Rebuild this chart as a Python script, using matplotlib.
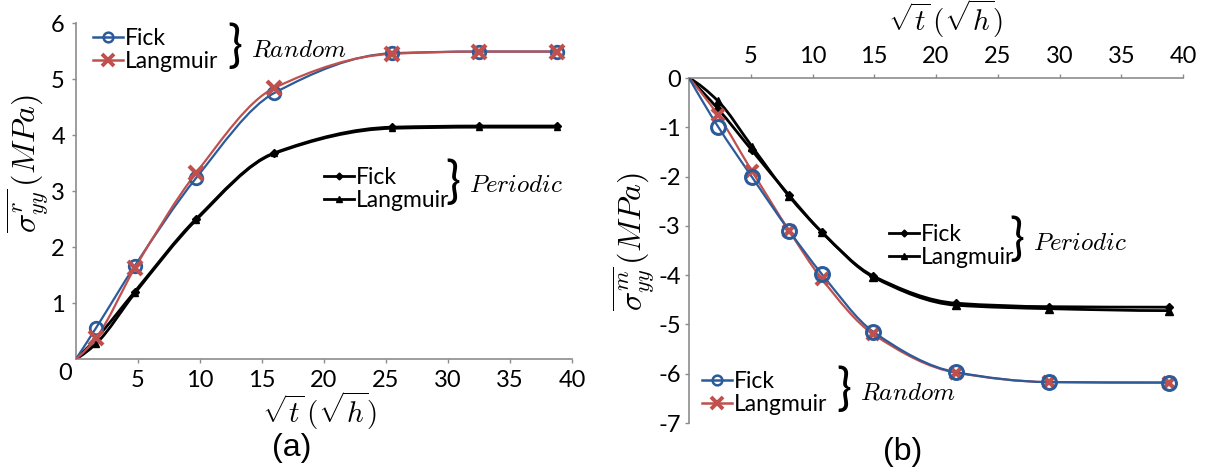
import numpy as np
import matplotlib as mpl
mpl.use('Agg')
import matplotlib.pyplot as plt
from matplotlib.path import Path
from matplotlib.patches import PathPatch
from matplotlib.lines import Line2D

plt.rcParams['font.family'] = ['Lato', 'DejaVu Sans']
plt.rcParams['mathtext.fontset'] = 'cm'

# panel (a): residual stress, sqrt(t) in sqrt(h)
t_a = [0, 1.6, 4.73, 9.68, 15.99, 25.52, 32.48, 38.82]
a_rand_fick = [0, 0.55, 1.66, 3.23, 4.75, 5.46, 5.49, 5.49]
a_rand_lang = [0, 0.37, 1.62, 3.32, 4.84, 5.45, 5.49, 5.49]
a_per_fick = [0, 0.36, 1.20, 2.50, 3.68, 4.14, 4.16, 4.16]
a_per_lang = [0, 0.27, 1.17, 2.48, 3.67, 4.12, 4.14, 4.14]

# panel (b): matrix stress
t_b = [0, 2.36, 5.1, 8.11, 10.73, 14.93, 21.63, 29.14, 38.83]
b_rand_fick = [0, -0.99, -2.01, -3.10, -3.97, -5.15, -5.97, -6.17, -6.18]
b_rand_lang = [0, -0.76, -1.89, -3.10, -4.07, -5.20, -5.98, -6.17, -6.18]
b_per_fick = [0, -0.63, -1.47, -2.38, -3.12, -4.02, -4.57, -4.64, -4.65]
b_per_lang = [0, -0.47, -1.39, -2.40, -3.12, -4.04, -4.61, -4.68, -4.72]

BLUE = '#2C5B9A'
RED = '#C0504D'
GRAY = '#8C8C8C'
W, H = 1210, 471


def px(x, y):
    return x / W, 1 - y / H


def smooth(ax, x, y, color, lw, z):
    # smoothed line: monotone cubic bezier through the points
    x = np.asarray(x, float)
    y = np.asarray(y, float)
    h = np.diff(x)
    d = np.diff(y) / h
    n = len(x)
    m = np.zeros(n)
    for k in range(1, n - 1):
        if d[k - 1] * d[k] > 0:
            w1 = 2 * h[k] + h[k - 1]
            w2 = h[k] + 2 * h[k - 1]
            m[k] = (w1 + w2) / (w1 / d[k - 1] + w2 / d[k])
    m0 = ((2 * h[0] + h[1]) * d[0] - h[0] * d[1]) / (h[0] + h[1])
    if np.sign(m0) != np.sign(d[0]):
        m0 = 0
    elif np.sign(d[0]) != np.sign(d[1]) and abs(m0) > 3 * abs(d[0]):
        m0 = 3 * d[0]
    m[0] = m0
    m[-1] = 0
    verts = [(x[0], y[0])]
    codes = [Path.MOVETO]
    for k in range(n - 1):
        verts += [(x[k] + h[k] / 3, y[k] + m[k] * h[k] / 3),
                  (x[k + 1] - h[k] / 3, y[k + 1] - m[k + 1] * h[k] / 3),
                  (x[k + 1], y[k + 1])]
        codes += [Path.CURVE4] * 3
    ax.add_patch(PathPatch(Path(verts, codes), fill=False, edgecolor=color,
                           lw=lw, zorder=z, capstyle='round'))


def style(ax):
    for s in ax.spines.values():
        s.set_color(GRAY)
        s.set_linewidth(1.2)
    ax.tick_params(colors=GRAY, length=3, width=1, labelsize=17,
                   labelcolor='black')


def group(x, y, word):
    # brace + italic group name next to a two-entry legend
    fig.text(*px(x, y), '}', fontsize=36, ha='center', va='center')
    fig.text(*px(x + 16, y + 1), word, fontsize=18, ha='left', va='center')


h_fick = Line2D([], [], color=BLUE, lw=1.8, marker='o', ms=7,
                mfc='none', mec=BLUE, mew=1.8)
h_lang = Line2D([], [], color=RED, lw=1.8, marker='x', ms=9,
                mec=RED, mew=2.8)
h_pfick = Line2D([], [], color='black', lw=2, marker='D', ms=3.5)
h_plang = Line2D([], [], color='black', lw=2, marker='^', ms=4.5)

leg_kw = dict(loc='center left', frameon=False, fontsize=16.5,
              handlelength=1.3, handletextpad=0.1, labelspacing=0.1,
              borderpad=0, borderaxespad=0)

fig = plt.figure(figsize=(12.1, 4.71), dpi=100)

# ---------------- (a)
ax1 = fig.add_axes([76 / W, 1 - 359 / H, 496 / W, 336 / H])
style(ax1)
ax1.spines['top'].set_visible(False)
ax1.spines['right'].set_visible(False)
ax1.set_xlim(0, 40)
ax1.set_ylim(0, 6)
ax1.set_xticks(range(5, 41, 5))
ax1.set_yticks(range(1, 7))
ax1.tick_params(pad=5)

smooth(ax1, t_a, a_per_lang, 'black', 2.0, 2)
smooth(ax1, t_a, a_per_fick, 'black', 2.0, 2)
smooth(ax1, t_a, a_rand_fick, BLUE, 1.6, 3)
smooth(ax1, t_a, a_rand_lang, RED, 1.6, 4)
ax1.plot(t_a[1:], a_per_lang[1:], ls='none', marker='^', ms=5, color='black', zorder=5)
ax1.plot(t_a[1:], a_per_fick[1:], ls='none', marker='D', ms=4, color='black', zorder=5)
ax1.plot(t_a[1:], a_rand_fick[1:], ls='none', marker='o', ms=9, mfc='none',
         mec=BLUE, mew=2, zorder=6)
ax1.plot(t_a[1:], a_rand_lang[1:], ls='none', marker='x', ms=10, mec=RED,
         mew=3, zorder=7, clip_on=False)
fig.text(*px(65, 374), '0', fontsize=17, ha='center', va='center')

fig.text(*px(320, 411), r'$\sqrt{t}\,(\sqrt{h})$', fontsize=21,
         ha='center', va='center')
fig.text(*px(28, 163), r'$\overline{\sigma^r_{yy}}\,(MPa)$', fontsize=23,
         rotation=90, ha='center', va='center')

fig.legend([h_fick, h_lang], ['Fick', 'Langmuir'],
           bbox_to_anchor=px(93, 50), **leg_kw)
group(235, 48, r'$Random$')

fig.legend([h_pfick, h_plang], ['Fick', 'Langmuir'],
           bbox_to_anchor=px(324, 189), **leg_kw)
group(453, 184, r'$Periodic$')

fig.text(*px(292, 448), '(a)', fontsize=23, family='Liberation Sans',
         ha='center', va='center')

# ---------------- (b)
ax2 = fig.add_axes([689 / W, 1 - 423 / H, 494 / W, 345 / H])
style(ax2)
ax2.spines['bottom'].set_visible(False)
ax2.spines['right'].set_visible(False)
ax2.xaxis.tick_top()
ax2.set_xlim(0, 40)
ax2.set_ylim(-7, 0)
ax2.set_xticks(range(5, 41, 5))
ax2.set_yticks(range(-7, 1))
ax2.set_yticklabels([str(v) for v in range(-7, 1)])
ax2.tick_params(axis='x', pad=5)
ax2.tick_params(axis='y', pad=3)

smooth(ax2, t_b, b_per_lang, 'black', 2.0, 2)
smooth(ax2, t_b, b_per_fick, 'black', 2.0, 2)
smooth(ax2, t_b, b_rand_lang, RED, 1.6, 3)
smooth(ax2, t_b, b_rand_fick, BLUE, 1.6, 4)
ax2.plot(t_b[1:], b_per_lang[1:], ls='none', marker='^', ms=6, color='black', zorder=5)
ax2.plot(t_b[1:], b_per_fick[1:], ls='none', marker='D', ms=4.5, color='black', zorder=5)
ax2.plot(t_b[1:], b_rand_lang[1:], ls='none', marker='x', ms=9, mec=RED,
         mew=3, zorder=6)
ax2.plot(t_b[1:], b_rand_fick[1:], ls='none', marker='o', ms=10, mfc='none',
         mec=BLUE, mew=2.2, zorder=7)

fig.text(*px(946, 19), r'$\sqrt{t}\,(\sqrt{h})$', fontsize=21,
         ha='center', va='center')
fig.text(*px(634, 241), r'$\overline{\sigma^m_{yy}}\,(MPa)$', fontsize=23,
         rotation=90, ha='center', va='center')

fig.legend([h_pfick, h_plang], ['Fick', 'Langmuir'],
           bbox_to_anchor=px(889, 246), **leg_kw)
group(1017, 241, r'$Periodic$')

fig.legend([h_fick, h_lang], ['Fick', 'Langmuir'],
           bbox_to_anchor=px(702, 393), **leg_kw)
group(844, 391, r'$Random$')

fig.text(*px(903, 452), '(b)', fontsize=23, family='Liberation Sans',
         ha='center', va='center')

fig.savefig('out.png', dpi=100)
